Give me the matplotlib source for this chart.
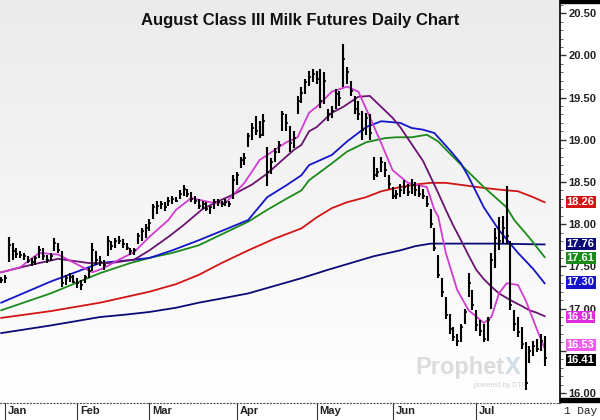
import numpy as np
import matplotlib.pyplot as plt
from matplotlib.colors import LinearSegmentedColormap
from matplotlib.transforms import blended_transform_factory
from matplotlib.patches import Rectangle

# daily bars (Dec 31 .. late Jul), one entry per trading day
highs = [17.38, 17.40, 17.85, 17.78, 17.72, 17.68, 17.66, 17.62, 17.60, 17.62,
         17.74, 17.72, 17.64, 17.66, 17.84, 17.78, 17.68, 17.40, 17.42, 17.40,
         17.36, 17.34, 17.40, 17.48, 17.78, 17.68, 17.62, 17.58, 17.86, 17.80,
         17.84, 17.86, 17.82, 17.78, 17.72, 17.72, 17.90, 17.96, 18.00,
         18.06, 18.24, 18.28, 18.28, 18.26, 18.32, 18.34, 18.32, 18.40, 18.46,
         18.42, 18.38, 18.34, 18.30, 18.28, 18.26, 18.22, 18.30, 18.30, 18.28,
         18.30, 18.28, 18.58,
         18.62, 18.80, 18.84, 19.08, 19.20, 19.28, 19.22, 19.30, 18.92, 18.78,
         18.90, 18.98, 19.34, 19.30, 19.16, 19.10, 19.52, 19.62, 19.72, 19.82, 19.84,
         19.82, 19.84, 19.80, 19.36, 19.40, 19.60, 19.58, 20.14, 19.86, 19.70,
         19.52, 19.46, 19.34, 19.32, 19.30, 18.80, 18.66, 18.80, 18.74, 18.58,
         18.44, 18.40, 18.48, 18.52, 18.48, 18.54, 18.50, 18.46, 18.42, 18.34,
         18.18, 17.96, 17.64, 17.36, 17.14, 16.94, 16.78, 16.70, 16.82, 17.00,
         17.42, 17.22,
         16.98, 16.86, 16.82, 16.90, 17.66, 17.96, 18.08, 18.10, 18.45, 17.80,
         16.98, 16.90, 16.78, 16.60, 16.56, 16.62, 16.64, 16.70, 16.68]
lows = [17.30, 17.30, 17.55, 17.58, 17.60, 17.60, 17.58, 17.54, 17.50, 17.52,
        17.60, 17.58, 17.54, 17.56, 17.68, 17.66, 17.25, 17.28, 17.32, 17.30,
        17.24, 17.22, 17.30, 17.36, 17.45, 17.52, 17.50, 17.46, 17.62, 17.70,
        17.72, 17.76, 17.72, 17.70, 17.64, 17.64, 17.76, 17.80, 17.84,
        17.92, 18.06, 18.12, 18.18, 18.16, 18.22, 18.24, 18.26, 18.30, 18.34,
        18.32, 18.26, 18.24, 18.18, 18.18, 18.16, 18.12, 18.18, 18.22, 18.20,
        18.22, 18.20, 18.30,
        18.46, 18.66, 18.70, 18.92, 19.00, 19.06, 19.02, 19.04, 18.45, 18.60,
        18.74, 18.84, 19.10, 19.10, 18.86, 18.90, 19.30, 19.44, 19.54, 19.64, 19.68,
        19.66, 19.38, 19.42, 19.22, 19.26, 19.36, 19.40, 19.62, 19.66, 19.52,
        19.30, 19.24, 19.00, 19.06, 19.00, 18.52, 18.56, 18.62, 18.56, 18.42,
        18.30, 18.30, 18.32, 18.36, 18.34, 18.36, 18.34, 18.32, 18.30, 18.20,
        17.96, 17.68, 17.36, 17.14, 16.88, 16.70, 16.62, 16.56, 16.60, 16.82,
        17.14, 16.98,
        16.74, 16.68, 16.60, 16.62, 17.00, 17.48, 17.70, 17.78, 17.76, 16.98,
        16.74, 16.66, 16.52, 16.03, 16.36, 16.44, 16.48, 16.50, 16.32]
closes = [17.34, 17.36, 17.75, 17.68, 17.65, 17.64, 17.62, 17.56, 17.55, 17.60,
          17.70, 17.62, 17.58, 17.62, 17.78, 17.70, 17.30, 17.36, 17.38, 17.32,
          17.30, 17.28, 17.38, 17.44, 17.70, 17.58, 17.55, 17.52, 17.80, 17.74,
          17.80, 17.80, 17.76, 17.72, 17.68, 17.70, 17.86, 17.92, 17.96,
          18.02, 18.20, 18.22, 18.24, 18.20, 18.28, 18.30, 18.28, 18.36, 18.42,
          18.36, 18.30, 18.28, 18.22, 18.24, 18.18, 18.20, 18.26, 18.26, 18.24,
          18.26, 18.24, 18.52,
          18.58, 18.76, 18.78, 19.04, 19.14, 19.10, 19.06, 19.22, 18.62, 18.74,
          18.86, 18.94, 19.30, 19.20, 18.96, 19.02, 19.46, 19.56, 19.68, 19.74, 19.78,
          19.72, 19.46, 19.70, 19.30, 19.34, 19.54, 19.50, 19.96, 19.80, 19.58,
          19.36, 19.30, 19.12, 19.26, 19.08, 18.58, 18.62, 18.74, 18.64, 18.48,
          18.34, 18.36, 18.40, 18.44, 18.38, 18.46, 18.40, 18.36, 18.34, 18.24,
          18.00, 17.72, 17.40, 17.20, 16.92, 16.76, 16.66, 16.62, 16.78, 16.96,
          17.30, 17.04,
          16.80, 16.74, 16.64, 16.86, 17.58, 17.84, 17.80, 17.96, 17.86, 17.04,
          16.82, 16.72, 16.58, 16.12, 16.50, 16.56, 16.52, 16.62, 16.41]

# moving averages (bar index, value)
ma1_x = [0, 5, 10, 15, 21, 24, 27, 31, 35, 39, 41, 44, 46, 50, 55, 59, 64, 68, 73, 75,
         78, 81, 83, 87, 91, 94, 97, 100, 103, 107, 112, 114, 115, 117, 120, 123, 127,
         129, 131, 133, 136, 138, 141, 143]
ma1_y = [17.43, 17.49, 17.66, 17.64, 17.50, 17.43, 17.48, 17.58, 17.67, 17.85, 17.93,
         18.05, 18.17, 18.31, 18.26, 18.25, 18.49, 18.76, 18.91, 18.97, 19.03, 19.32,
         19.39, 19.57, 19.63, 19.57, 19.27, 18.96, 18.64, 18.49, 18.44, 18.17, 18.09,
         17.66, 17.22, 16.98, 16.83, 16.90, 17.18, 17.30, 17.28, 17.10, 16.75, 16.53]
ma2_x = [0, 8, 15, 23, 29, 35, 39, 44, 48, 53, 57, 61, 66, 70, 74, 77, 79, 81, 83, 87,
         90, 94, 97, 100, 103, 105, 108, 111, 113, 115, 117, 119, 121, 123, 125, 127,
         129, 131, 134, 137, 139, 141, 143]
ma2_y = [17.43, 17.52, 17.59, 17.54, 17.54, 17.58, 17.69, 17.85, 17.99, 18.18, 18.27,
         18.35, 18.47, 18.60, 18.76, 18.88, 18.94, 19.10, 19.15, 19.32, 19.39, 19.51,
         19.52, 19.39, 19.26, 19.15, 18.95, 18.75, 18.56, 18.37, 18.17, 17.98, 17.81,
         17.63, 17.46, 17.35, 17.26, 17.18, 17.10, 17.03, 16.98, 16.95, 16.91]
ma3_x = [0, 13, 26, 35, 39, 45, 52, 58, 65, 70, 75, 79, 81, 87, 91, 96, 100, 105, 108,
         111, 114, 116, 118, 121, 123, 125, 127, 131, 136, 140, 143]
ma3_y = [17.07, 17.32, 17.54, 17.58, 17.60, 17.69, 17.81, 17.92, 18.05, 18.32, 18.46,
         18.58, 18.70, 18.82, 18.98, 19.15, 19.22, 19.20, 19.14, 19.12, 19.08, 18.98,
         18.88, 18.72, 18.56, 18.38, 18.20, 17.93, 17.66, 17.47, 17.30]
ma4_x = [0, 13, 26, 34, 39, 45, 52, 58, 65, 70, 75, 79, 81, 87, 91, 96, 101, 104, 108,
         112, 115, 118, 122, 127, 130, 133, 135, 139, 143]
ma4_y = [16.98, 17.18, 17.42, 17.54, 17.60, 17.66, 17.75, 17.88, 18.03, 18.17, 18.30,
         18.40, 18.52, 18.72, 18.86, 18.97, 19.02, 19.03, 19.03, 19.06, 18.98, 18.84,
         18.66, 18.44, 18.32, 18.20, 18.05, 17.84, 17.61]
ma5_x = [0, 13, 26, 39, 46, 52, 58, 65, 72, 79, 83, 87, 91, 96, 100, 105, 109, 113,
         117, 122, 127, 131, 136, 140, 143]
ma5_y = [16.89, 16.97, 17.07, 17.20, 17.29, 17.40, 17.54, 17.69, 17.83, 17.95, 18.08,
         18.19, 18.26, 18.32, 18.39, 18.44, 18.47, 18.49, 18.49, 18.46, 18.43, 18.41,
         18.39, 18.32, 18.26]
ma6_x = [0, 13, 26, 33, 39, 46, 52, 58, 65, 72, 79, 86, 92, 98, 105, 109, 113, 120,
         130, 143]
ma6_y = [16.71, 16.80, 16.90, 16.93, 16.96, 17.01, 17.07, 17.12, 17.18, 17.27, 17.36,
         17.46, 17.54, 17.62, 17.69, 17.74, 17.77, 17.77, 17.77, 17.76]

months = ['Jan', 'Feb', 'Mar', 'Apr', 'May', 'Jun', 'Jul']
month_start = [1, 20, 39, 62, 83, 103, 125]
price_ticks = [16.0, 16.5, 17.0, 17.5, 18.0, 18.5, 19.0, 19.5, 20.0, 20.5]
hidden_ticks = [16.5]  # covered by the value tags on the chart

c_fast, c_mid, c_blue = '#d23cd2', '#6a1470', '#1414c8'
c_green, c_red, c_navy = '#1a8a1a', '#d21414', '#0a0a78'

fig = plt.figure(figsize=(6, 4.2), dpi=100)
ax = fig.add_axes([0, 17 / 420, 560 / 600, 1 - 17 / 420])
x0, x1 = -0.32, 147.05
y0, y1 = 15.8815, 20.6564
ax.set_xlim(x0, x1)
ax.set_ylim(y0, y1)

bg = LinearSegmentedColormap.from_list('bg', ['#ffffff', '#ebebeb'])
ax.imshow(np.linspace(0, 1, 256).reshape(-1, 1), cmap=bg, aspect='auto',
          extent=[x0, x1, y1, y0], zorder=0)

# watermark
ax.text(109.0, 16.22, 'Prophet', fontsize=17, fontweight='bold',
        color='#dcdcdc', family='Liberation Sans', ha='left', va='baseline', zorder=1)
ax.text(132.4, 16.22, 'X', fontsize=17, fontweight='bold',
        color='#cfdde6', family='Liberation Sans', ha='left', va='baseline', zorder=1)
ax.text(124.5, 16.07, 'powered by DTN', fontsize=5, color='#d2d2d2',
        family='Liberation Sans', ha='left', zorder=1)

idx = np.arange(len(closes))
ax.plot(ma6_x, ma6_y, color=c_navy, lw=1.3, zorder=2)
ax.plot(ma5_x, ma5_y, color=c_red, lw=1.3, zorder=2)
ax.plot(ma4_x, ma4_y, color=c_green, lw=1.3, zorder=2)
ax.plot(ma3_x, ma3_y, color=c_blue, lw=1.3, zorder=2)
ax.plot(ma2_x, ma2_y, color=c_mid, lw=1.3, zorder=2)
ax.plot(ma1_x, ma1_y, color=c_fast, lw=1.3, zorder=2)

ax.vlines(idx, lows, highs, color='black', lw=1.5, zorder=3)
ax.hlines(closes, idx, idx + 0.5, color='black', lw=1.2, zorder=3)

# right price scale
ax.yaxis.tick_right()
ax.set_yticks(price_ticks)
ax.set_yticklabels(['' if p in hidden_ticks else '%.2f' % p for p in price_ticks],
                   fontsize=8, fontweight='bold', color='#222222',
                   family='Liberation Sans')
ax.set_yticks(np.arange(15.9, 20.6, 0.1), minor=True)
ax.tick_params(axis='y', which='major', length=4, width=1, pad=2, color='#333333')
ax.tick_params(axis='y', which='minor', length=2, width=0.6, color='#555555')
ax.set_xticks([])
for s in ['left', 'top']:
    ax.spines[s].set_visible(False)
ax.spines['right'].set_color('black')
ax.spines['right'].set_linewidth(1.2)
ax.spines['bottom'].set_linestyle((0, (1, 2)))
ax.spines['bottom'].set_color('#555555')
ax.spines['bottom'].set_linewidth(0.8)

# last value tags (placed where the chart shows them)
tr = blended_transform_factory(ax.transAxes, ax.transData)
tags = [(18.26, 18.26, c_red), (17.76, 17.77, c_navy), (17.61, 17.60, c_green),
        (17.30, 17.31, c_blue), (16.91, 16.90, '#e02ce0'), (16.53, 16.57, '#f05cf0'),
        (16.41, 16.39, 'black')]
for val, ypos, col in tags:
    ax.text(1.012, ypos, '%.2f' % val, transform=tr, fontsize=8, fontweight='bold',
            color='white', family='Liberation Sans', va='center', ha='left', zorder=6,
            clip_on=False,
            bbox=dict(boxstyle='square,pad=0.1', fc=col, ec='none'))

# month strip
trx = blended_transform_factory(ax.transData, ax.transAxes)
for m, name in zip(month_start, months):
    ax.plot([m, m], [0, -17 / 403], color='#333333', lw=0.8, transform=trx,
            clip_on=False)
    ax.text(m + 0.8, -8.5 / 403, name, transform=trx, fontsize=8, fontweight='bold',
            color='#222222', family='Liberation Sans', va='center', ha='left')
fig.text(564 / 600, 8.5 / 420, '1 Day', fontsize=8, color='#222222',
         family='Liberation Mono', va='center', ha='left')
fig.add_artist(Rectangle((560 / 600, 1 - 3 / 420), 40 / 600, 3 / 420,
                         transform=fig.transFigure, color='black'))
fig.add_artist(Rectangle((560 / 600, 18 / 420), 40 / 600, 4 / 420,
                         transform=fig.transFigure, color='black'))

fig.text(0.5, 1 - 20 / 420, 'August Class III Milk Futures Daily Chart', fontsize=12,
         fontweight='bold', color='#111111', family='Liberation Sans',
         ha='center', va='center')

fig.savefig('out.png', dpi=100)
